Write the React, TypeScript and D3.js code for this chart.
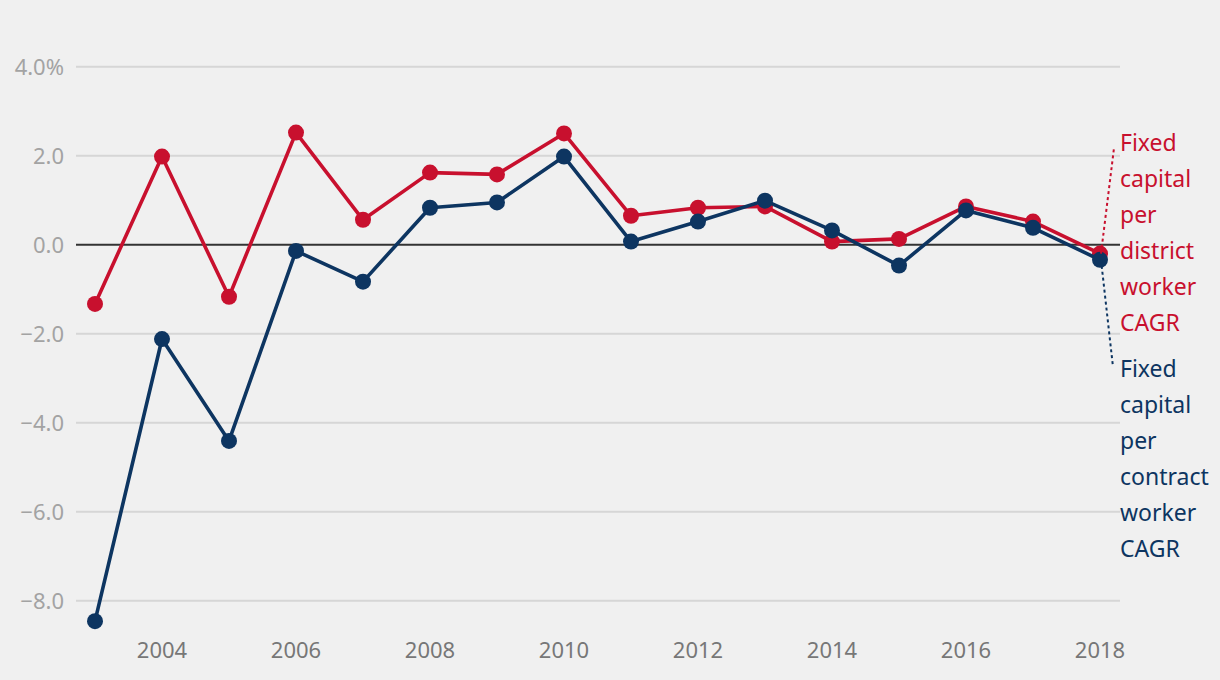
import React from "react";
import * as d3 from "d3";

const years = [2003, 2004, 2005, 2006, 2007, 2008, 2009, 2010, 2011, 2012, 2013, 2014, 2015, 2016, 2017, 2018];
const districtCAGR = [-1.33, 1.98, -1.17, 2.52, 0.56, 1.62, 1.58, 2.5, 0.65, 0.83, 0.86, 0.07, 0.13, 0.86, 0.52, -0.2];
const contractCAGR = [-8.46, -2.12, -4.41, -0.14, -0.83, 0.83, 0.95, 1.98, 0.07, 0.52, 0.99, 0.32, -0.47, 0.77, 0.38, -0.34];
const yTicks = [4, 2, 0, -2, -4, -6, -8];
const xTicks = [2004, 2006, 2008, 2010, 2012, 2014, 2016, 2018];
const districtLabel = ["Fixed", "capital", "per", "district", "worker", "CAGR"];
const contractLabel = ["Fixed", "capital", "per", "contract", "worker", "CAGR"];

const W = 1220;
const H = 680;
const RED = "#c8102e";
const BLUE = "#0d3561";
const FONT = "'Source Sans Pro', 'Noto Sans', sans-serif";

export default function App() {
  const x = d3.scaleLinear().domain([2003, 2018]).range([95, 1100]);
  const y = d3.scaleLinear().domain([-8, 4]).range([600.7, 66.7]);
  const line = d3
    .line<[number, number]>()
    .x((d) => x(d[0]))
    .y((d) => y(d[1]));
  const red: [number, number][] = years.map((yr, i) => [yr, districtCAGR[i]]);
  const blue: [number, number][] = years.map((yr, i) => [yr, contractCAGR[i]]);
  const fmt = (v: number) => {
    const s = Math.abs(v).toFixed(1);
    if (v === 4) return s + "%";
    return v < 0 ? "\u2212" + s : s;
  };
  const lastRed = red[red.length - 1];
  const lastBlue = blue[blue.length - 1];
  return (
    <svg
      width={W}
      height={H}
      style={{ position: "fixed", left: 0, top: 0, background: "#f0f0f0" }}
      fontFamily={FONT}
    >
      <rect x={0} y={0} width={W} height={H} fill="#f0f0f0" />
      {yTicks.map((t) => (
        <g key={t}>
          <line
            x1={76}
            x2={1120}
            y1={y(t)}
            y2={y(t)}
            stroke={t === 0 ? "#333" : "#d6d6d6"}
            strokeWidth={2}
          />
          <text x={64} y={y(t) + 8} textAnchor="end" fontSize={22} fill="#a3a3a3">
            {fmt(t)}
          </text>
        </g>
      ))}
      {xTicks.map((t) => (
        <text key={t} x={x(t)} y={658} textAnchor="middle" fontSize={22} fill="#777">
          {t}
        </text>
      ))}
      <path d={line(red) || ""} fill="none" stroke={RED} strokeWidth={3.6} strokeLinejoin="round" />
      {red.map((d) => (
        <circle key={"r" + d[0]} cx={x(d[0])} cy={y(d[1])} r={8} fill={RED} />
      ))}
      <path d={line(blue) || ""} fill="none" stroke={BLUE} strokeWidth={3.6} strokeLinejoin="round" />
      {blue.map((d) => (
        <circle key={"b" + d[0]} cx={x(d[0])} cy={y(d[1])} r={8} fill={BLUE} />
      ))}
      <line
        x1={x(lastRed[0]) + 1}
        y1={y(lastRed[1])}
        x2={1114}
        y2={148}
        stroke={RED}
        strokeWidth={2}
        strokeDasharray="3,3"
      />
      <line
        x1={x(lastBlue[0]) + 1}
        y1={y(lastBlue[1])}
        x2={1113}
        y2={367}
        stroke={BLUE}
        strokeWidth={2}
        strokeDasharray="3,3"
      />
      {districtLabel.map((s, i) => (
        <text key={"dl" + i} x={1120} y={151 + i * 36} fontSize={23} fill={RED}>
          {s}
        </text>
      ))}
      {contractLabel.map((s, i) => (
        <text key={"cl" + i} x={1120} y={377 + i * 36} fontSize={23} fill={BLUE}>
          {s}
        </text>
      ))}
    </svg>
  );
}
